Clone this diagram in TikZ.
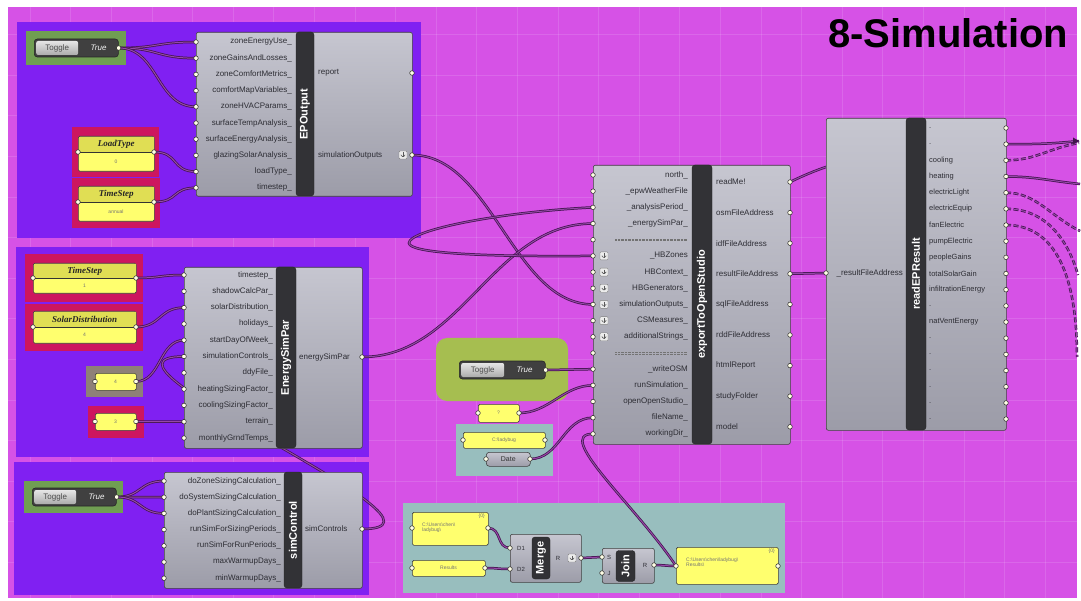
\documentclass[tikz,border=0pt]{standalone}
\usepackage{fontspec}
\setmainfont{Liberation Sans}
\newfontfamily\headfont{Liberation Serif}
\usetikzlibrary{calc}
\definecolor{canvaspink}{RGB}{214,82,230}
\definecolor{groupviolet}{RGB}{128,32,242}
\definecolor{groupred}{RGB}{205,22,95}
\definecolor{groupgreen}{RGB}{112,158,82}
\definecolor{grouplime}{RGB}{166,190,80}
\definecolor{groupteal}{RGB}{152,190,190}
\definecolor{groupgray}{RGB}{142,128,120}
\definecolor{comptop}{RGB}{198,198,208}
\definecolor{compbot}{RGB}{156,156,168}
\definecolor{barfill}{RGB}{50,50,54}
\definecolor{wiredark}{RGB}{66,20,78}
\definecolor{wirelight}{RGB}{150,72,168}
\definecolor{panelyellow}{RGB}{255,255,110}
\definecolor{panelhead}{RGB}{224,222,84}
\definecolor{labelgray}{RGB}{45,45,52}
\pgfdeclarelayer{groups}
\pgfdeclarelayer{wires}
\pgfsetlayers{groups,wires,main}
\tikzset{
  comp/.style={draw=black!75, line width=0.6pt, rounded corners=2pt, top color=comptop, bottom color=compbot, anchor=north west, inner sep=0pt},
  compbar/.style={draw=black!85, fill=barfill, rounded corners=3pt, rotate=90, inner sep=0pt, text=white, font=\bfseries\fontsize{11}{11}\selectfont},
  ipin/.style={circle, draw=black!85, fill=white!90!yellow, line width=0.5pt, minimum size=4.6pt, inner sep=0pt},
  plabel/.style={inner sep=0pt, text=labelgray, font=\fontsize{8}{8}\selectfont},
  flaticon/.style={draw=black!50, fill=white!85!gray, rounded corners=1pt, minimum size=8pt, inner sep=0pt,
    path picture={
      \draw[black!65, line width=0.7pt] ([yshift=-1.5pt]path picture bounding box.north) -- ([yshift=1.8pt]path picture bounding box.south);
      \draw[black!65, line width=0.6pt] ([xshift=-2.2pt,yshift=4.2pt]path picture bounding box.south) -- ([yshift=1.8pt]path picture bounding box.south) -- ([xshift=2.2pt,yshift=4.2pt]path picture bounding box.south);
    }},
  pbody/.style={draw=black!75, line width=0.6pt, fill=panelyellow, rounded corners=1.5pt, anchor=north west, inner sep=0pt},
  phead/.style={fill=panelhead, anchor=north west, inner sep=0pt, text=black!85, font=\headfont\bfseries\itshape\fontsize{9}{9}\selectfont},
  pval/.style={inner sep=0pt, text=black!55, font=\fontsize{5}{5}\selectfont},
  togbox/.style={draw=black!85, fill=black!75, rounded corners=3pt, anchor=west, inner sep=0pt, line width=0.6pt},
  togleft/.style={top color=white!80!gray, bottom color=gray!65, rounded corners=2pt, anchor=west, inner sep=0pt, text=black!70, font=\fontsize{8}{8}\selectfont},
  togval/.style={inner sep=0pt, text=white!90!gray, font=\itshape\fontsize{8}{8}\selectfont},
  param/.style={draw=black!75, line width=0.6pt, rounded corners=3pt, top color=comptop, bottom color=compbot, anchor=north west, inner sep=0pt, text=black!80, font=\fontsize{7}{7}\selectfont},
  wire/.style={draw=wiredark, line width=0.75pt, double=wirelight, double distance=1pt},
  fwire/.style={wire, dash pattern=on 5pt off 2.5pt},
  gridline/.style={white, opacity=0.12, line width=0.5pt}
}

\begin{document}
\begin{tikzpicture}[x=1pt,y=-1pt]
  \useasboundingbox (0,0) rectangle (1081,601);
  \begin{pgfonlayer}{groups}
    \fill[white] (0,0) rectangle (1081,601);
    \fill[canvaspink] (8,7) rectangle (1077,598);
    \foreach \gx in {30,70.6,...,1050} \draw[gridline] (\gx,7) -- (\gx,598);
    \foreach \gy in {34.4,75,...,590} \draw[gridline] (8,\gy) -- (1077,\gy);
    % groups
    \fill[groupviolet] (17,22) rectangle (421,238);
    \fill[groupviolet] (16,247) rectangle (369,457);
    \fill[groupviolet] (14,462) rectangle (369,595);
    \fill[groupgreen] (26,31) rectangle (126,65);
    \fill[groupred] (72,127) rectangle (159,177);
    \fill[groupred] (72,178) rectangle (160,228);
    \fill[groupred] (25,254) rectangle (143,302);
    \fill[groupred] (25,304) rectangle (143,351);
    \fill[groupgray] (86,366) rectangle (143,397);
    \fill[groupred] (88,406) rectangle (144,438);
    \fill[groupgreen] (24,481) rectangle (123,513);
    \fill[grouplime, rounded corners=11pt] (436,338) rectangle (568,401);
    \fill[groupteal] (456,424) rectangle (553,476);
    \fill[groupteal] (403,503) rectangle (785,593);
  \end{pgfonlayer}

  \node[anchor=base west, inner sep=0pt, font=\bfseries\fontsize{40}{40}\selectfont] (title) at (828,48) {8-Simulation};

  % EPOutput
  \node[togbox, minimum width=84pt, minimum height=18pt] (tog1) at (34,48) {};
  \node[togleft, minimum width=42pt, minimum height=14pt] at ([xshift=2pt]tog1.west) {Toggle};
  \node[togval] at ([xshift=-20pt]tog1.east) {True};
  \node[ipin] (tog1-o) at (tog1.east) {};

  \node[pbody, minimum width=76pt, minimum height=35pt] (ltype) at (78,136) {};
  \node[phead, minimum width=75pt, minimum height=15.5pt] at ([xshift=0.5pt,yshift=-0.5pt]ltype.north west) {LoadType};
  \draw[black!80, line width=0.7pt] (78,152) -- (154,152);
  \node[pval] at (116,162) {0};
  \node[ipin] (ltype-i) at (78,152) {};
  \node[ipin] (ltype-o) at (154,152) {};

  \node[pbody, minimum width=76pt, minimum height=35pt] (tstep) at (78,186) {};
  \node[phead, minimum width=75pt, minimum height=15.5pt] at ([xshift=0.5pt,yshift=-0.5pt]tstep.north west) {TimeStep};
  \draw[black!80, line width=0.7pt] (78,202) -- (154,202);
  \node[pval] at (116,212) {annual};
  \node[ipin] (tstep-i) at (78,202) {};
  \node[ipin] (tstep-o) at (154,202) {};

  \node[comp, minimum width=216pt, minimum height=164pt] (epout) at (196,32) {};
  \node[compbar, minimum width=164pt, minimum height=18pt] (epbar) at (305,114) {EPOutput};
  \foreach \lbl [count=\i] in {zoneEnergyUse\_, zoneGainsAndLosses\_, zoneComfortMetrics\_, comfortMapVariables\_, zoneHVACParams\_, surfaceTempAnalysis\_, surfaceEnergyAnalysis\_, glazingSolarAnalysis\_, loadType\_, timestep\_}{
    \pgfmathsetmacro\py{42+16.2*(\i-1)}
    \node[plabel, anchor=east] at (292,\py) {\lbl};
    \node[ipin] (ep-i\i) at (196,\py) {};
  }
  \node[plabel, anchor=west] at (318,73) {report};
  \node[ipin] (ep-o1) at (412,73) {};
  \node[plabel, anchor=west] at (318,155) {simulationOutputs};
  \node[flaticon] at (403,155) {};
  \node[ipin] (ep-o2) at (412,155) {};

  % EnergySimPar
  \node[pbody, minimum width=103pt, minimum height=30pt] (tstep2) at (33,263) {};
  \node[phead, minimum width=102pt, minimum height=14.5pt] at ([xshift=0.5pt,yshift=-0.5pt]tstep2.north west) {TimeStep};
  \draw[black!80, line width=0.7pt] (33,278) -- (136,278);
  \node[pval] at (84.5,286) {1};
  \node[ipin] (tstep2-i) at (33,278) {};
  \node[ipin] (tstep2-o) at (136,278) {};

  \node[pbody, minimum width=103pt, minimum height=32pt] (solar) at (33,311) {};
  \node[phead, minimum width=102pt, minimum height=15.5pt] at ([xshift=0.5pt,yshift=-0.5pt]solar.north west) {SolarDistribution};
  \draw[black!80, line width=0.7pt] (33,327) -- (136,327);
  \node[pval] at (84.5,335) {4};
  \node[ipin] (solar-i) at (33,327) {};
  \node[ipin] (solar-o) at (136,327) {};

  \node[pbody, minimum width=41pt, minimum height=17pt] (dow) at (95,373) {};
  \node[pval] at (115.5,381.5) {4};
  \node[ipin] (dow-i) at (95,381.5) {};
  \node[ipin] (dow-o) at (136,381.5) {};

  \node[pbody, minimum width=41pt, minimum height=17pt] (terr) at (95,413) {};
  \node[pval] at (115.5,421.5) {3};
  \node[ipin] (terr-i) at (95,421.5) {};
  \node[ipin] (terr-o) at (136,421.5) {};

  \node[comp, minimum width=178pt, minimum height=181pt] (esp) at (184,267) {};
  \node[compbar, minimum width=181pt, minimum height=20pt] (espbar) at (286,357.5) {EnergySimPar};
  \foreach \lbl [count=\i] in {timestep\_, shadowCalcPar\_, solarDistribution\_, holidays\_, startDayOfWeek\_, simulationControls\_, ddyFile\_, heatingSizingFactor\_, coolingSizingFactor\_, terrain\_, monthlyGrndTemps\_}{
    \pgfmathsetmacro\py{275+16.3*(\i-1)}
    \node[plabel, anchor=east] at (273,\py) {\lbl};
    \node[ipin] (esp-i\i) at (184,\py) {};
  }
  \node[plabel, anchor=west] at (299,357) {energySimPar};
  \node[ipin] (esp-o) at (362,357) {};

  % simControl
  \node[togbox, minimum width=84pt, minimum height=18pt] (tog3) at (32,497) {};
  \node[togleft, minimum width=42pt, minimum height=14pt] at ([xshift=2pt]tog3.west) {Toggle};
  \node[togval] at ([xshift=-20pt]tog3.east) {True};
  \node[ipin] (tog3-o) at (tog3.east) {};

  \node[comp, minimum width=198pt, minimum height=116pt] (simc) at (164,472) {};
  \node[compbar, minimum width=116pt, minimum height=18pt] (simcbar) at (293,530) {simControl};
  \foreach \lbl [count=\i] in {doZoneSizingCalculation\_, doSystemSizingCalculation\_, doPlantSizingCalculation\_, runSimForSizingPeriods\_, runSimForRunPeriods\_, maxWarmupDays\_, minWarmupDays\_}{
    \pgfmathsetmacro\py{481+16.2*(\i-1)}
    \node[plabel, anchor=east] at (281,\py) {\lbl};
    \node[ipin] (simc-i\i) at (164,\py) {};
  }
  \node[plabel, anchor=west] at (305,529) {simControls};
  \node[ipin] (simc-o) at (362,529) {};

  % exportToOpenStudio
  \node[togbox, minimum width=86pt, minimum height=18pt] (tog2) at (459,370) {};
  \node[togleft, minimum width=43pt, minimum height=14pt] at ([xshift=2pt]tog2.west) {Toggle};
  \node[togval] at ([xshift=-21pt]tog2.east) {True};
  \node[ipin] (tog2-o) at (tog2.east) {};

  \node[pbody, minimum width=41pt, minimum height=18pt] (qpan) at (478,404) {};
  \node[pval] at (498.5,413) {?};
  \node[ipin] (qpan-i) at (478,413) {};
  \node[ipin] (qpan-o) at (519,413) {};

  \node[pbody, minimum width=82pt, minimum height=16pt] (dpan) at (463,432) {};
  \node[pval] at (504,440) {C:\textbackslash ladybug};
  \node[ipin] (dpan-i) at (463,440) {};
  \node[ipin] (dpan-o) at (545,440) {};
  \node[param, minimum width=44pt, minimum height=14pt] (date) at (486,452) {Date};
  \node[ipin] (date-i) at (486,459) {};
  \node[ipin] (date-o) at (530,459) {};

  \node[comp, minimum width=197pt, minimum height=279pt] (xo) at (593,165) {};
  \node[compbar, minimum width=279pt, minimum height=20pt] (xobar) at (702,304.5) {exportToOpenStudio};
  \foreach \lbl [count=\i] in {north\_, \_epwWeatherFile, \_analysisPeriod\_, \_energySimPar\_, sep, \_HBZones, HBContext\_, HBGenerators\_, simulationOutputs\_, CSMeasures\_, additionalStrings\_, sep, \_writeOSM, runSimulation\_, openOpenStudio\_, fileName\_, workingDir\_}{
    \pgfmathsetmacro\py{175+16.18*(\i-1)}
    \ifnum\i=5
      \draw[black!55, dash pattern=on 0.7pt off 0.7pt] (615,\py-0.9) -- (687,\py-0.9) (615,\py+0.9) -- (687,\py+0.9);
    \else\ifnum\i=12
      \draw[black!55, dash pattern=on 0.7pt off 0.7pt] (615,\py-0.9) -- (687,\py-0.9) (615,\py+0.9) -- (687,\py+0.9);
    \else
      \node[plabel, anchor=east] at (688,\py) {\lbl};
    \fi\fi
    \ifnum\i>5 \ifnum\i<12 \node[flaticon] at (604,\py) {}; \fi\fi
    \node[ipin] (xo-i\i) at (593,\py) {};
  }
  \foreach \lbl [count=\j] in {readMe!, osmFileAddress, idfFileAddress, resultFileAddress, sqlFileAddress, rddFileAddress, htmlReport, studyFolder, model}{
    \pgfmathsetmacro\py{182+30.6*(\j-1)}
    \node[plabel, anchor=west] at (716,\py) {\lbl};
    \node[ipin] (xo-o\j) at (790,\py) {};
  }

  % readEPResult
  \node[comp, minimum width=180pt, minimum height=312pt] (rr) at (826,118) {};
  \node[compbar, minimum width=312pt, minimum height=20pt] (rrbar) at (916,274) {readEPResult};
  \node[plabel, anchor=east] at (903,273) {\_resultFileAddress};
  \node[ipin] (rr-i) at (826,273) {};
  \foreach \lbl [count=\j] in {., ., cooling, heating, electricLight, electricEquip, fanElectric, pumpElectric, peopleGains, totalSolarGain, infiltrationEnergy, ., natVentEnergy, ., ., ., ., ., .}{
    \pgfmathsetmacro\py{128+16.17*(\j-1)}
    \node[plabel, anchor=west, font=\fontsize{7.5}{7.5}\selectfont] at (929,\py) {\lbl};
    \node[ipin] (rr-o\j) at (1006,\py) {};
  }

  % file path
  \node[pbody, minimum width=76pt, minimum height=33pt] (pan1) at (412,512) {};
  \node[pval, anchor=north east] at (485,514) {\{0\}};
  \node[pval, anchor=north west, align=left] at (422,523) {C:\textbackslash Users\textbackslash chen\textbackslash\\ladybug\textbackslash};
  \node[ipin] (pan1-i) at (412,528) {};
  \node[ipin] (pan1-o) at (488,528) {};
  \node[pbody, minimum width=73pt, minimum height=16pt] (pan2) at (412,560) {};
  \node[pval] at (448.5,568) {Results};
  \node[ipin] (pan2-i) at (412,568) {};
  \node[ipin] (pan2-o) at (485,568) {};

  \node[comp, minimum width=71pt, minimum height=48pt] (mrg) at (510,534) {};
  \node[compbar, minimum width=42pt, minimum height=18pt] (mrgbar) at (541,558) {Merge};
  \node[plabel, font=\fontsize{6}{6}\selectfont] at (521,548) {D1};
  \node[plabel, font=\fontsize{6}{6}\selectfont] at (521,569) {D2};
  \node[plabel, font=\fontsize{6}{6}\selectfont] at (558,558) {R};
  \node[flaticon] at (572,558) {};
  \node[ipin] (mrg-i1) at (510,548) {};
  \node[ipin] (mrg-i2) at (510,569) {};
  \node[ipin] (mrg-o) at (581,558) {};

  \node[comp, minimum width=52pt, minimum height=35pt] (jn) at (602,548) {};
  \node[compbar, minimum width=31pt, minimum height=19pt] (jnbar) at (625.5,566) {Join};
  \node[plabel, font=\fontsize{6}{6}\selectfont] at (609,557) {S};
  \node[plabel, font=\fontsize{6}{6}\selectfont] at (609,573) {J};
  \node[plabel, font=\fontsize{6}{6}\selectfont] at (645,565) {R};
  \node[ipin] (jn-i1) at (602,557) {};
  \node[ipin] (jn-i2) at (602,573) {};
  \node[ipin] (jn-o) at (654,565) {};

  \node[pbody, minimum width=102pt, minimum height=37pt] (opan) at (676,547) {};
  \node[pval, anchor=north east] at (775,549) {\{0\}};
  \node[pval, anchor=north west, align=left] at (686,558) {C:\textbackslash Users\textbackslash chen\textbackslash ladybug\textbackslash\\Results\textbackslash};
  \node[ipin] (opan-i) at (676,566) {};
  \node[ipin] (opan-o) at (778,566) {};

  % wires
  \coordinate (hairpin) at (409,243);
  \coordinate (mehidden) at (880,155);
  \coordinate (eR1) at (1079,141);
  \coordinate (eR2) at (1079,143);
  \coordinate (eR3) at (1080,184);
  \coordinate (eR4) at (1080,231);
  \coordinate (eR5) at (1078,275);
  \coordinate (eR6) at (1077,357);
  \begin{pgfonlayer}{wires}
    \draw[wire] (tog1-o.center) .. controls +(40,0) and +(-40,0) .. (ep-i1.center);
    \draw[wire] (tog1-o.center) .. controls +(40,0) and +(-40,0) .. (ep-i2.center);
    \draw[wire] (tog1-o.center) .. controls +(40,0) and +(-40,0) .. (ep-i5.center);
    \draw[wire] (ltype-o.center) .. controls +(25,0) and +(-25,0) .. (ep-i9.center);
    \draw[wire] (tstep-o.center) .. controls +(25,0) and +(-25,0) .. (ep-i10.center);
    \draw[wire] (tstep2-o.center) .. controls +(25,0) and +(-25,0) .. (esp-i1.center);
    \draw[wire] (solar-o.center) .. controls +(25,0) and +(-25,0) .. (esp-i3.center);
    \draw[wire] (dow-o.center) .. controls +(25,0) and +(-25,0) .. (esp-i5.center);
    \draw[wire] (terr-o.center) -- (esp-i10.center);
    \draw[wire] (simc-o.center) .. controls +(120,0) and +(-120,0) .. (esp-i6.center);
    \draw[wire] (tog3-o.center) .. controls +(25,0) and +(-25,0) .. (simc-i1.center);
    \draw[wire] (tog3-o.center) .. controls +(25,0) and +(-25,0) .. (simc-i2.center);
    \draw[wire] (tog3-o.center) .. controls +(25,0) and +(-25,0) .. (simc-i3.center);
    \draw[wire] (ep-o2.center) .. controls +(80,0) and +(-80,0) .. (xo-i9.center);
    \draw[wire] (esp-o.center) .. controls +(100,0) and +(-100,0) .. (xo-i4.center);
    \draw[wire] (xo-i3.center) .. controls (500,212) and (409,230) .. (hairpin) .. controls (409,253) and (480,257) .. (xo-i6.center);
    \draw[wire] (tog2-o.center) -- (xo-i13.center);
    \draw[wire] (qpan-o.center) .. controls +(30,0) and +(-30,0) .. (xo-i14.center);
    \draw[wire] (date-o.center) .. controls +(30,0) and +(-30,0) .. (xo-i16.center);
    \draw[wire] (xo-i17.center) .. controls +(-40,0) and +(-40,-60) .. (opan-i.center);
    \draw[wire] (xo-o4.center) -- (rr-i.center);
    \draw[wire] (xo-o1.center) .. controls +(25,-12) and +(-40,5) .. (mehidden);
    \draw[wire] (pan1-o.center) .. controls +(14,0) and +(-14,0) .. (mrg-i1.center);
    \draw[wire] (pan2-o.center) .. controls +(14,0) and +(-14,0) .. (mrg-i2.center);
    \draw[wire] (mrg-o.center) -- (jn-i1.center);
    \draw[wire] (jn-o.center) .. controls +(10,0) and +(-10,0) .. (opan-i.center);
    % outgoing results
    \draw[wire] (rr-o2.center) .. controls +(30,0) and +(-30,3) .. (eR1);
    \draw[fwire] (rr-o3.center) .. controls +(30,0) and +(-30,5) .. (eR2);
    \draw[wire] (rr-o4.center) .. controls +(30,0) and +(-30,-3) .. (eR3);
    \draw[fwire] (rr-o5.center) .. controls +(30,0) and +(-30,-15) .. (eR4);
    \draw[fwire] (rr-o6.center) .. controls +(40,0) and +(-10,-35) .. (eR5);
    \draw[fwire] (rr-o7.center) .. controls +(50,0) and +(0,-80) .. (eR6);
    \fill[wiredark] (eR1) -- +(-6,-3.5) -- +(-6,3.5) -- cycle;
  \end{pgfonlayer}
\end{tikzpicture}
\end{document}
